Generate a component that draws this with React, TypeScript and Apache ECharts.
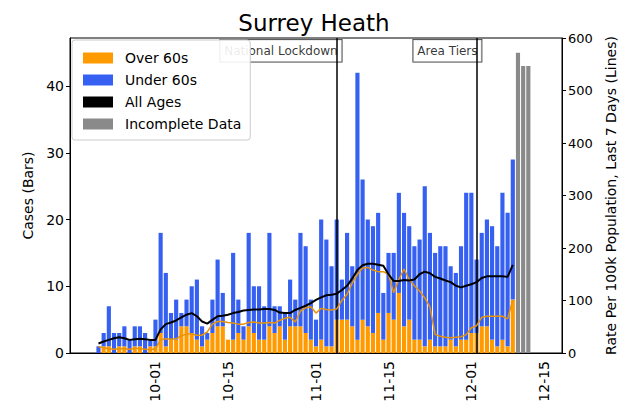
import React, { useEffect, useRef } from 'react';
import * as echarts from 'echarts';

// ---- axis categories (days shown on the x axis, 2020-09-15 .. 2020-12-18) ----
const axisStart = { year: 2020, month: 9, day: 15 };
const axisDayCount = 95;
const tickDays = ['10-01', '10-15', '11-01', '11-15', '12-01', '12-15'];

// ---- data (daily, starting 09-20) ----
const dataStart = '09-20';
const over60Cases = [
  0, 1, 1, 0, 1, 1, 0, 1, 1, 0, 1,
  1, 3, 1, 2, 2, 4, 4, 3, 2, 1,
  2, 3, 4, 4, 2, 2, 3, 2, 4, 3,
  2, 2, 4, 3, 4, 2, 4, 4, 4, 3,
  2, 1, 2, 1, 1, 5, 5, 5, 4, 2,
  5, 4, 3, 6, 2, 6, 5, 9, 4, 5,
  2, 2, 1, 2, 1, 1, 1, 2, 1, 2,
  2, 3, 3, 4, 4, 2, 1, 2, 1, 8,
];
const under60Cases = [
  1, 2, 6, 3, 2, 3, 2, 3, 3, 3, 1,
  4, 15, 11, 4, 6, 2, 4, 7, 9, 3,
  1, 5, 10, 5, 0, 13, 5, 2, 14, 7,
  8, 5, 14, 4, 3, 4, 7, 4, 14, 13,
  6, 4, 18, 16, 12, 15, 6, 13, 9, 40,
  21, 16, 16, 15, 7, 9, 10, 15, 17, 14,
  14, 15, 24, 16, 14, 15, 15, 11, 11, 14,
  22, 21, 11, 14, 16, 17, 15, 22, 20, 21,
];
const incompleteStart = '12-10';
const incompleteCases = [45, 43, 43];

const allAgesRate = [
  18, 22, 25, 28, 30, 28, 25, 26, 27, 26, 25,
  25, 45, 55, 58, 62, 68, 73, 76, 70, 60,
  56, 63, 70, 71, 73, 76, 78, 81, 82, 83,
  83, 84, 84, 82, 77, 76, 76, 82, 86, 90,
  95, 101, 106, 110, 111, 113, 120, 128, 142, 158,
  167, 170, 170, 168, 166, 150, 137, 137, 139, 138,
  140, 150, 155, 152, 145, 142, 138, 135, 128, 125,
  128, 131, 135, 143, 146, 146, 146, 146, 145, 168,
];
const over60Rate = [
  12, 10, 8, 7, 8, 8, 7, 9, 8, 7, 6,
  8, 25, 27, 26, 27, 33, 36, 36, 34, 34,
  40, 55, 60, 60, 58, 57, 55, 55, 58, 59,
  57, 57, 58, 57, 62, 66, 68, 59, 80, 86,
  88, 76, 85, 83, 82, 84, 100, 112, 133, 150,
  162, 163, 158, 155, 155, 150, 115, 140, 160, 140,
  128, 118, 105, 88, 35, 32, 30, 29, 30, 31,
  35, 48, 52, 68, 70, 70, 70, 70, 65, 101,
];

const eventDays = ['11-05', '12-02'];
const eventLabels = ['National Lockdown', 'Area Tiers'];
const eventLabelLevel = 45.3;
const incompleteSpan = ['12-09', '12-14'];

function buildAxisDays(): string[] {
  const out: string[] = [];
  const t0 = Date.UTC(axisStart.year, axisStart.month - 1, axisStart.day);
  for (let i = 0; i < axisDayCount; i++) {
    const d = new Date(t0 + i * 86400000);
    const mm = String(d.getUTCMonth() + 1).padStart(2, '0');
    const dd = String(d.getUTCDate()).padStart(2, '0');
    out.push(`${mm}-${dd}`);
  }
  return out;
}

export default function App() {
  const ref = useRef<HTMLDivElement>(null);
  useEffect(() => {
    if (!ref.current) return;
    const chart = echarts.init(ref.current, undefined, { renderer: 'svg' });
    const days = buildAxisDays();
    const s0 = days.indexOf(dataStart);
    const i0 = days.indexOf(incompleteStart);
    const pair = (arr: number[], start: number) => arr.map((v, i) => [days[start + i], v]);
    const font = 'DejaVu Sans';
    const tickFn = (_i: number, v: string) => tickDays.includes(v);

    chart.setOption({
      animation: false,
      textStyle: { fontFamily: font, color: '#000' },
      title: {
        text: 'Surrey Heath',
        left: 'center',
        top: 6,
        textStyle: { fontFamily: font, fontSize: 23, fontWeight: 'normal', color: '#000' },
      },
      legend: {
        orient: 'vertical',
        left: 72,
        top: 40,
        z: 10,
        padding: [11, 9, 9, 11],
        itemWidth: 30,
        itemHeight: 11,
        itemGap: 8,
        backgroundColor: 'rgba(255,255,255,0.9)',
        borderColor: '#cccccc',
        borderWidth: 1,
        borderRadius: 3,
        textStyle: { fontFamily: font, fontSize: 14, color: '#000', lineHeight: 14, padding: [0, 0, 0, 7] },
        data: [
          { name: 'Over 60s', icon: 'rect' },
          { name: 'Under 60s', icon: 'rect' },
          { name: 'All Ages', icon: 'rect' },
          { name: 'Incomplete Data', icon: 'rect' },
        ],
        selectedMode: false,
      },
      grid: {
        left: 70,
        right: 66,
        top: 38,
        bottom: 58,
        show: true,
        borderColor: '#000',
        borderWidth: 1,
        backgroundColor: '#fff',
      },
      xAxis: {
        type: 'category',
        data: days,
        boundaryGap: true,
        axisLine: { lineStyle: { color: '#000', width: 1 } },
        axisTick: { alignWithLabel: true, interval: tickFn, length: 4, lineStyle: { color: '#000' } },
        axisLabel: { interval: tickFn, rotate: 90, fontSize: 14, color: '#000', fontFamily: font, margin: 8 },
        splitLine: { show: false },
      },
      yAxis: [
        {
          type: 'value',
          min: 0,
          max: 47.2,
          interval: 10,
          name: 'Cases (Bars)',
          nameLocation: 'middle',
          nameGap: 30,
          nameTextStyle: { fontSize: 14, color: '#000', fontFamily: font },
          axisLine: { show: true, lineStyle: { color: '#000' } },
          axisTick: { show: true, length: 4, lineStyle: { color: '#000' } },
          axisLabel: {
            fontSize: 14, color: '#000', fontFamily: font, margin: 6,
            showMaxLabel: false,
          },
          splitLine: { show: false },
        },
        {
          type: 'value',
          min: 0,
          max: 600,
          interval: 100,
          name: 'Rate Per 100k Population, Last 7 Days (Lines)',
          nameLocation: 'middle',
          nameGap: 38,
          nameRotate: 90,
          nameTextStyle: { fontSize: 14, color: '#000', fontFamily: font },
          axisLine: { show: true, lineStyle: { color: '#000' } },
          axisTick: { show: true, length: 4, lineStyle: { color: '#000' } },
          axisLabel: { fontSize: 13, color: '#000', fontFamily: font, margin: 6 },
          splitLine: { show: false },
        },
      ],
      series: [
        {
          name: 'Over 60s',
          type: 'bar',
          stack: 'cases',
          barCategoryGap: '20%',
          itemStyle: { color: '#ff9a00' },
          data: pair(over60Cases, s0),
        },
        {
          name: 'Under 60s',
          type: 'bar',
          stack: 'cases',
          barCategoryGap: '20%',
          itemStyle: { color: '#3560f2' },
          data: pair(under60Cases, s0),
          markLine: {
            silent: true,
            symbol: 'none',
            label: { show: false },
            lineStyle: { color: '#000', width: 1.5, type: 'solid' },
            data: eventDays.map((d) => ({ xAxis: d })),
          },
        },
        {
          name: 'Incomplete Data',
          type: 'bar',
          stack: 'cases',
          barCategoryGap: '20%',
          itemStyle: { color: '#8a8a8a' },
          data: pair(incompleteCases, i0),
          markArea: {
            silent: true,
            itemStyle: { color: 'rgba(150,150,150,0.18)' },
            data: [[{ xAxis: incompleteSpan[0] }, { xAxis: incompleteSpan[1] }]],
          },
        },
        {
          name: 'Over 60s Rate',
          type: 'line',
          yAxisIndex: 1,
          symbol: 'none',
          lineStyle: { color: '#e8920a', width: 1.5 },
          itemStyle: { color: '#e8920a' },
          data: pair(over60Rate, s0),
          z: 5,
        },
        {
          name: 'All Ages',
          type: 'line',
          yAxisIndex: 1,
          symbol: 'none',
          lineStyle: { color: '#000', width: 2 },
          itemStyle: { color: '#000' },
          data: pair(allAgesRate, s0),
          z: 6,
        },
        {
          name: 'Events',
          type: 'scatter',
          symbolSize: 0,
          silent: true,
          z: 4,
          label: {
            show: true,
            position: 'left',
            distance: -5,
            backgroundColor: '#fff',
            borderColor: '#000',
            borderWidth: 0.8,
            padding: [5, 4, 5, 4],
            fontSize: 12,
            color: '#000',
            fontFamily: font,
          },
          data: eventDays.map((d, i) => ({
            value: [d, eventLabelLevel],
            label: { formatter: eventLabels[i] },
          })),
        },
      ],
    });
    return () => chart.dispose();
  }, []);
  return (
    <div
      ref={ref}
      style={{ position: 'absolute', left: 0, top: 0, width: 628, height: 411, background: '#fff' }}
    />
  );
}
